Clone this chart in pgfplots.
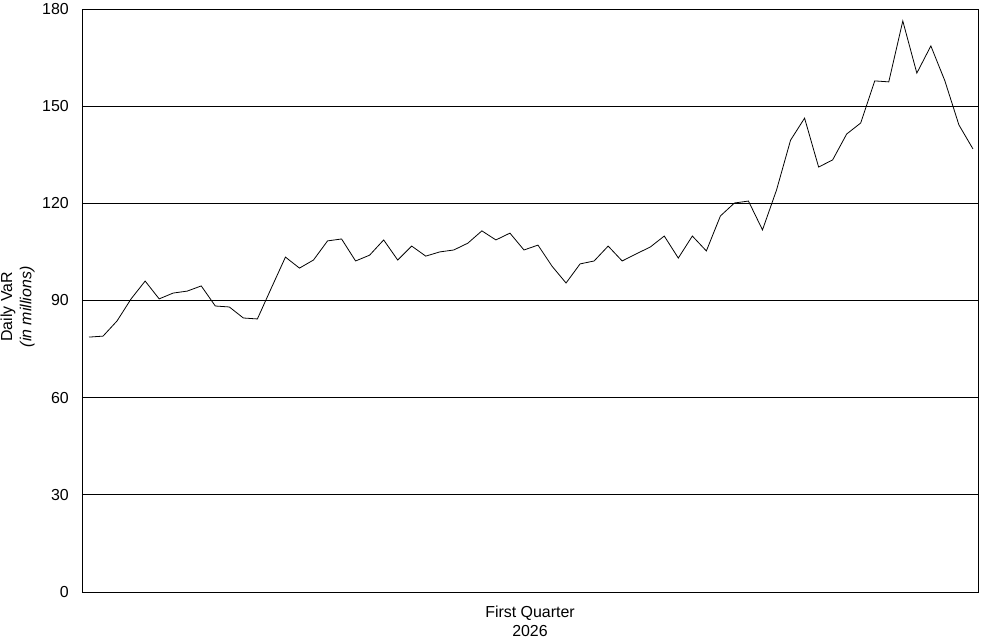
\documentclass[border=0pt]{standalone}
\usepackage{pgfplots}
\pgfplotsset{compat=1.18}
\usepackage{fontspec}
\setmainfont{Liberation Sans}
\begin{document}
\fontsize{16}{19.3}\selectfont
\begin{tikzpicture}
\path[use as bounding box] (-82bp,-47bp) rectangle (902bp,592bp);
\begin{axis}[
  scale only axis,
  width=896bp, height=583bp,
  xmin=0.5, xmax=64.36,
  ymin=0, ymax=180,
  ytick={0,30,...,180},
  xtick=\empty,
  ymajorgrids=true,
  grid style={black, line width=0.8pt},
  axis line style={black, line width=0.8pt},
  major tick length=0pt,
  tick label style={font=\fontsize{16}{19.3}\selectfont},
  /pgf/number format/assume math mode=true,
  yticklabel style={anchor=east, inner sep=0pt, xshift=-13bp},
  ylabel={Daily VaR\\\textit{(in millions)}},
  ylabel style={align=center, font=\fontsize{16}{19.3}\selectfont, inner sep=0pt,
     at={(axis description cs:-0.0525,0.489)}, anchor=south, rotate=0},
  xlabel={First Quarter\\2026},
  xlabel style={align=center, font=\fontsize{16}{19.3}\selectfont, inner sep=0pt,
     at={(axis description cs:0.5,0)}, anchor=north, yshift=-13.3bp},
]
\addplot[black, line width=0.8pt] coordinates {
(1,78.7) (2,79.0) (3,83.7) (4,90.5) (5,96.0) (6,90.5) (7,92.3) (8,92.9)
(9,94.5) (10,88.3) (11,88.0) (12,84.6) (13,84.3) (14,93.9) (15,103.4) (16,100.0)
(17,102.5) (18,108.4) (19,109.0) (20,102.2) (21,104.0) (22,108.7) (23,102.5) (24,106.8)
(25,103.7) (26,105.0) (27,105.6) (28,107.7) (29,111.5) (30,108.7) (31,110.8) (32,105.6)
(33,107.1) (34,100.6) (35,95.4) (36,101.3) (37,102.2) (38,106.8) (39,102.2) (40,104.4)
(41,106.5) (42,109.9) (43,103.1) (44,109.9) (45,105.3) (46,116.1) (47,120.1) (48,120.7)
(49,111.8) (50,124.1) (51,139.5) (52,146.3) (53,131.2) (54,133.4) (55,141.4) (56,144.8)
(57,157.8) (58,157.5) (59,176.3) (60,160.2) (61,168.6) (62,157.8) (63,144.2) (64,136.8)
};
\end{axis}
\end{tikzpicture}
\end{document}
